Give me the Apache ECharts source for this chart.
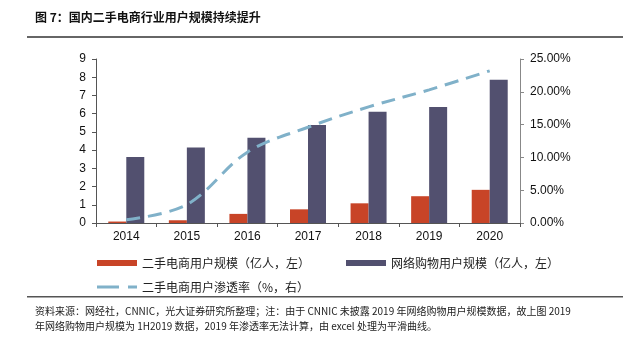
<!DOCTYPE html>
<html>
<head>
<meta charset="utf-8">
<script src="https://cdn.jsdelivr.net/npm/echarts@6/dist/echarts.min.js"></script>
<style>
html,body{margin:0;padding:0;background:#fff;}
#chart{width:623px;height:337px;}
</style>
</head>
<body>
<div id="chart"></div>
<script>
// Years on the category axis
const years = ['2014', '2015', '2016', '2017', '2018', '2019', '2020'];
// Second-hand e-commerce users (100 million people)
const secondHandUsers = [0.08, 0.15, 0.5, 0.75, 1.08, 1.47, 1.82];
// Online shopping users (100 million people)
const onlineShoppers = [3.62, 4.15, 4.68, 5.38, 6.11, 6.37, 7.86];
// Penetration rate of second-hand e-commerce (%)
const penetration = [0.5, 2.8, 10.8, 14.6, 17.7, 20.3, 23.2];

const font = '"Liberation Sans", "Noto Sans CJK SC", sans-serif';
const cjk = '"Noto Sans CJK SC", sans-serif';

const chart = echarts.init(document.getElementById('chart'), null, { renderer: 'canvas' });
chart.setOption({
  animation: false,
  backgroundColor: '#fff',
  textStyle: { fontFamily: font },
  grid: { left: 96, right: 103, top: 59, bottom: 114, containLabel: false },
  legend: [
    {
      left: 92, top: 252, itemWidth: 40, itemHeight: 6, itemGap: 36,
      icon: 'rect',
      textStyle: { fontFamily: cjk, fontSize: 12, color: '#222' },
      data: ['二手电商用户规模（亿人，左）', '网络购物用户规模（亿人，左）']
    },
    {
      left: 92, top: 276, itemWidth: 40, itemHeight: 3,
      textStyle: { fontFamily: cjk, fontSize: 12, color: '#222' },
      data: [{
        name: '二手电商用户渗透率（%，右）',
        // two-dash key for the dashed penetration line
        icon: 'path://M0,0H22V3H0Z M31,0H40V3H31Z'
      }]
    }
  ],
  xAxis: {
    type: 'category',
    data: years,
    axisLine: { lineStyle: { color: '#555', width: 1.2 } },
    axisTick: { show: true, inside: false, length: 4, lineStyle: { color: '#555' } },
    axisLabel: { color: '#111', fontSize: 12, margin: 8, fontFamily: font }
  },
  yAxis: [
    {
      type: 'value', min: 0, max: 9, interval: 1,
      splitLine: { show: false },
      axisLine: { show: true, lineStyle: { color: '#555' } },
      axisTick: { show: true, length: 4, lineStyle: { color: '#555' } },
      axisLabel: { color: '#111', fontSize: 12, margin: 10, fontFamily: font }
    },
    {
      type: 'value', min: 0, max: 25, interval: 5, position: 'right',
      splitLine: { show: false },
      axisLine: { show: true, lineStyle: { color: '#888' } },
      axisTick: { show: true, length: 4, lineStyle: { color: '#888' } },
      axisLabel: {
        color: '#111', fontSize: 12, margin: 10, fontFamily: font,
        formatter: v => v.toFixed(2) + '%'
      }
    }
  ],
  series: [
    {
      name: '二手电商用户规模（亿人，左）',
      type: 'bar', data: secondHandUsers, barWidth: 18, barGap: '0%',
      itemStyle: { color: '#c84427' }
    },
    {
      name: '网络购物用户规模（亿人，左）',
      type: 'bar', data: onlineShoppers, barWidth: 18, barGap: '0%',
      itemStyle: { color: '#52506f' }
    },
    {
      name: '二手电商用户渗透率（%，右）',
      type: 'line', yAxisIndex: 1, data: penetration, smooth: 0.35,
      symbol: 'none',
      itemStyle: { color: '#80b1c9' },
      lineStyle: { color: '#80b1c9', width: 3, type: [14, 8] }
    }
  ],
  graphic: [
    {
      type: 'text', left: 35, top: 11,
      style: { text: '图 7：国内二手电商行业用户规模持续提升', fontFamily: cjk, fontSize: 12, fontWeight: 'bold', fill: '#111' }
    },
    { type: 'rect', shape: { x: 27, y: 36, width: 596, height: 2 }, style: { fill: '#666' } },
    { type: 'rect', shape: { x: 27, y: 296, width: 596, height: 1.5 }, style: { fill: '#555' } },
    {
      type: 'text', left: 35, top: 304,
      style: {
        text: '资料来源：网经社，CNNIC，光大证券研究所整理；注：由于 CNNIC 未披露 2019 年网络购物用户规模数据，故上图 2019\n年网络购物用户规模为 1H2019 数据，2019 年渗透率无法计算，由 excel 处理为平滑曲线。',
        fontFamily: cjk, fontSize: 10, lineHeight: 15, fill: '#222'
      }
    }
  ]
});
</script>
</body>
</html>
